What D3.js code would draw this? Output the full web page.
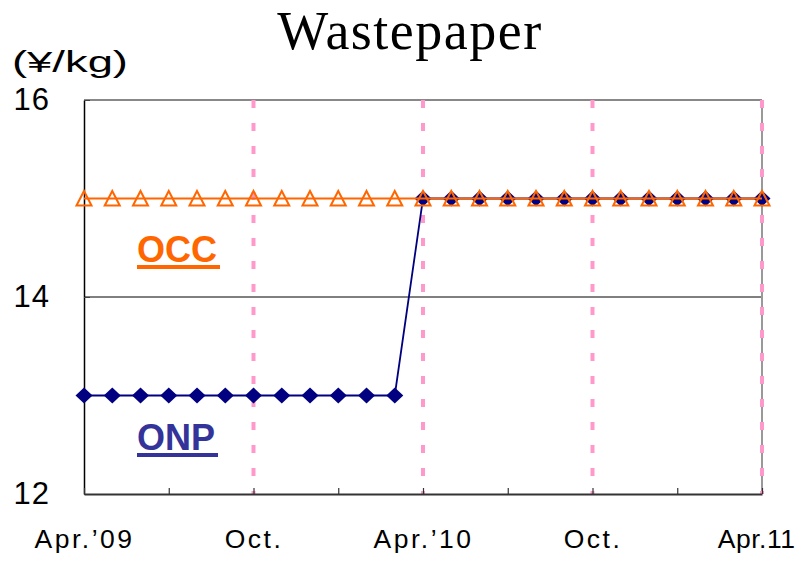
<!DOCTYPE html>
<html><head><meta charset="utf-8">
<script src="https://cdn.jsdelivr.net/npm/d3@7"></script>
<style>body{margin:0;background:#fff}</style>
</head><body>
<script>
const months = ["Apr.'09","May","Jun","Jul","Aug","Sep","Oct","Nov","Dec","Jan","Feb","Mar",
  "Apr.'10","May","Jun","Jul","Aug","Sep","Oct","Nov","Dec","Jan","Feb","Mar","Apr.11"];
const xTickLabels = {0:"Apr.\u201909",6:"Oct.",12:"Apr.\u201910",18:"Oct.",24:"Apr.11"};
const onpValues = [13,13,13,13,13,13,13,13,13,13,13,13,15,15,15,15,15,15,15,15,15,15,15,15,15];
const occValues = [15,15,15,15,15,15,15,15,15,15,15,15,15,15,15,15,15,15,15,15,15,15,15,15,15];
const yTicks = [12,14,16];
const dashedAt = [6,12,18,24];

const W=807,H=563;
const svg=d3.select("body").append("svg").attr("width",W).attr("height",H);
const x=d3.scaleLinear().domain([0,24]).range([84,762]);
const y=d3.scaleLinear().domain([12,16]).range([494,100]);
const sans="'Liberation Sans', Arial, sans-serif";

// title
svg.append("text").attr("x",410).attr("y",49).attr("text-anchor","middle")
  .attr("font-family","'Liberation Serif','Times New Roman',serif").attr("font-size",54)
  .attr("letter-spacing",1.5).text("Wastepaper");
svg.append("text").attr("x",12).attr("y",72).attr("font-family",sans).attr("font-size",29)
  .attr("textLength",116).attr("lengthAdjust","spacingAndGlyphs").text("(\u00a5/kg)");

// gridline at 14
svg.append("line").attr("x1",x(0)).attr("x2",x(24)).attr("y1",y(14)).attr("y2",y(14)).attr("stroke","#000").attr("stroke-width",1);
// top & right border
svg.append("line").attr("x1",x(0)).attr("x2",x(24)).attr("y1",y(16)).attr("y2",y(16)).attr("stroke","#888").attr("stroke-width",2);
svg.append("line").attr("x1",x(24)).attr("x2",x(24)).attr("y1",y(16)).attr("y2",y(12)).attr("stroke","#999").attr("stroke-width",2);

// dashed pink lines
svg.selectAll(".vd").data(dashedAt).join("line")
  .attr("x1",d=>x(d)).attr("x2",d=>x(d)).attr("y1",y(16)).attr("y2",y(12))
  .attr("stroke","#ff99cc").attr("stroke-width",4).attr("stroke-dasharray","8,15");

// y axis
const ya=svg.append("g").attr("transform",`translate(${x(0)},0)`)
  .call(d3.axisLeft(y).tickValues(yTicks).tickSizeInner(-6).tickSizeOuter(0).tickPadding(34).tickFormat(d3.format("d")));
ya.select(".domain").attr("stroke","#000").attr("stroke-width",1.5);
ya.selectAll(".tick line").attr("stroke","#444").attr("stroke-width",1);
ya.selectAll("text").attr("font-family",sans).attr("font-size",31).attr("letter-spacing",1).attr("fill","#000");

// x axis
const xa=svg.append("g").attr("transform",`translate(0,${y(12)})`)
  .call(d3.axisBottom(x).tickValues(d3.range(0,25,3)).tickSizeInner(-6).tickSizeOuter(0).tickPadding(35)
    .tickFormat(d=>xTickLabels[d]||""));
xa.select(".domain").attr("stroke","#333").attr("stroke-width",2);
xa.selectAll(".tick line").attr("stroke","#333").attr("stroke-width",1.2);
xa.selectAll("text").attr("font-family",sans).attr("font-size",26.5).attr("letter-spacing",2.5).attr("fill","#000");
xa.selectAll(".tick").filter(d=>d===24).select("text").attr("text-anchor","end").attr("x",33).attr("letter-spacing",0.5);

const line=d3.line().x((d,i)=>x(i)).y(d=>y(d));
// ONP
svg.append("path").datum(onpValues).attr("d",line).attr("fill","none").attr("stroke","#000080").attr("stroke-width",1.8);
svg.selectAll(".onp").data(onpValues).join("path")
  .attr("transform",(d,i)=>`translate(${x(i)},${y(d)})`)
  .attr("d","M0,-8L8.5,0L0,8L-8.5,0Z").attr("fill","#000080");
// OCC
svg.append("path").datum(occValues).attr("d",line).attr("fill","none").attr("stroke","#ff6600").attr("stroke-width",2);
svg.selectAll(".occ").data(occValues).join("path")
  .attr("transform",(d,i)=>`translate(${x(i)},${y(d)})`)
  .attr("d","M0,-7.5L7.5,7L-7.5,7Z").attr("fill","none").attr("stroke","#ff6600").attr("stroke-width",2);

// labels
function lab(t,lx,by,col){
  const g=svg.append("text").attr("x",lx).attr("y",by)
    .attr("font-family",sans).attr("font-weight","bold").attr("font-size",36).attr("fill",col).text(t);
  const bb=g.node().getBBox();
  svg.append("rect").attr("x",bb.x).attr("y",by+3).attr("width",bb.width+3).attr("height",4).attr("fill",col);
}
lab("OCC",137,262,"#ff6600");
lab("ONP",137,450,"#333399");
</script>
</body></html>
